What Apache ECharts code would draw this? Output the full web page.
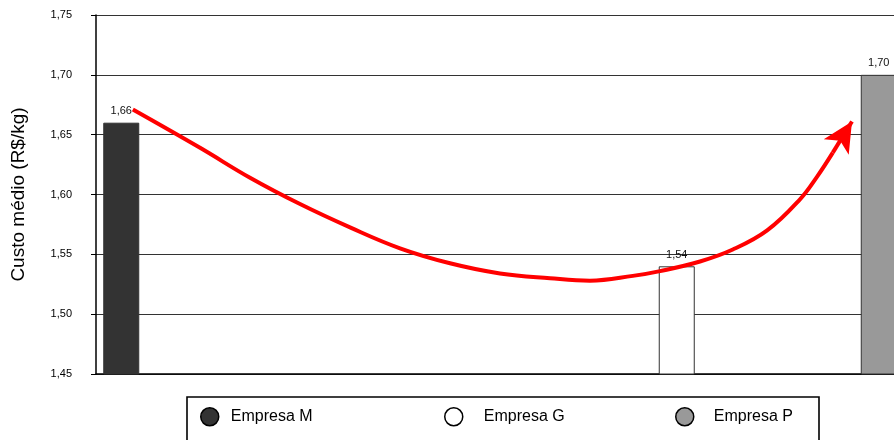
<!DOCTYPE html>
<html>
<head>
<meta charset="utf-8">
<script src="https://cdn.jsdelivr.net/npm/echarts@6/dist/echarts.min.js"></script>
<style>
  html, body { margin: 0; padding: 0; background: #fff; }
  #chart { width: 894px; height: 440px; }
</style>
</head>
<body>
<div id="chart"></div>
<script>
// Average cost per company (R$/kg)
const empresas = ['Empresa M', 'Empresa G', 'Empresa P'];
const custos = [1.66, 1.54, 1.70];
// Column slot each company occupies along the horizontal axis (16 slots)
const slotCount = 16;
const slots = [0, 11, 15];
const barColors = ['#333333', '#ffffff', '#999999'];

// Y axis ticks
const yMin = 1.45, yMax = 1.75, yStep = 0.05;

// Trend arrow drawn from M down past G and up to P, in (slot, cost) units
const trendX = [0.23, 1.56, 2.55, 3.54, 4.53, 5.52, 6.51, 7.50, 8.49, 9.28, 10.13, 10.67, 11.46, 12.11, 12.79, 13.44, 13.78, 14.09, 14.47];
const trendY = [1.671, 1.639, 1.614, 1.592, 1.5725, 1.555, 1.5425, 1.534, 1.530, 1.528, 1.532, 1.536, 1.544, 1.554, 1.570, 1.596, 1.615, 1.635, 1.661];

const comma = v => v.toFixed(2).replace('.', ',');
const font = '"Liberation Sans", Arial, sans-serif';

const categories = Array.from({ length: slotCount }, (_, i) => String(i));

const barSeries = empresas.map((name, k) => {
  const data = new Array(slotCount).fill(null);
  data[slots[k]] = custos[k];
  return {
    name: name,
    type: 'bar',
    xAxisIndex: 0,
    barWidth: 36,
    barGap: '-100%',
    data: data,
    itemStyle: { color: barColors[k], borderColor: '#333', borderWidth: 1 },
    label: {
      show: true,
      position: 'top',
      distance: 6,
      color: '#111',
      fontFamily: font,
      fontSize: 11,
      formatter: p => comma(p.value)
    },
    emphasis: { disabled: true },
    animation: false
  };
});

const trendData = trendX.map((x, i) => [x, trendY[i]]);
const n = trendData.length;
// curve body stops where the arrowhead segment begins
const curveData = trendData.slice(0, n - 1);

const legendLefts = [195, 439, 670];
const legendPads = [7, 16, 15];

const option = {
  animation: false,
  backgroundColor: '#fff',
  grid: { left: 96, top: 15, width: 808, bottom: 66, containLabel: false, outerBoundsMode: 'none' },
  xAxis: [
    {
      type: 'category',
      data: categories,
      axisLine: { show: true, onZero: false, lineStyle: { color: '#000', width: 1.5 } },
      axisTick: { show: false },
      axisLabel: { show: false },
      splitLine: { show: false }
    },
    {
      type: 'value',
      min: -0.5,
      max: slotCount - 0.5,
      show: false
    }
  ],
  yAxis: {
    type: 'value',
    min: yMin,
    max: yMax,
    interval: yStep,
    name: 'Custo médio (R$/kg)',
    nameLocation: 'middle',
    nameGap: 68,
    nameTextStyle: { fontFamily: font, fontSize: 19, color: '#000' },
    axisLine: { show: true, onZero: false, lineStyle: { color: '#000', width: 1.5 } },
    axisTick: { show: true, length: 5, lineStyle: { color: '#000' } },
    axisLabel: {
      fontFamily: font, fontSize: 11, color: '#000', margin: 24,
      formatter: v => comma(v)
    },
    splitLine: { show: true, lineStyle: { color: '#333', width: 1.2 } }
  },
  legend: empresas.map((name, k) => ({
    data: [name],
    left: legendLefts[k],
    top: 402,
    icon: 'circle',
    itemWidth: 18,
    itemHeight: 18,
    selectedMode: false,
    textStyle: { fontFamily: font, fontSize: 16, color: '#000', padding: [0, 0, 0, legendPads[k]] },
    itemStyle: { borderColor: '#000', borderWidth: 1.5 }
  })),
  graphic: [{
    type: 'rect',
    shape: { x: 187, y: 397, width: 632, height: 80 },
    style: { fill: 'none', stroke: '#000', lineWidth: 1.6 },
    silent: true,
    z: 0
  }],
  series: barSeries.concat([{
    name: 'tendência',
    type: 'line',
    xAxisIndex: 1,
    yAxisIndex: 0,
    data: curveData,
    smooth: 0.4,
    symbol: 'none',
    lineStyle: { color: '#ff0000', width: 4 },
    silent: true,
    z: 5,
    markLine: {
      silent: true,
      symbol: ['none', 'arrow'],
      symbolSize: [22, 30],
      label: { show: false },
      lineStyle: { color: '#ff0000', width: 4, type: 'solid' },
      data: [[
        { coord: trendData[n - 2] },
        { coord: trendData[n - 1] }
      ]],
      animation: false
    }
  }])
};

const chart = echarts.init(document.getElementById('chart'), null, { renderer: 'canvas' });
chart.setOption(option);
</script>
</body>
</html>
